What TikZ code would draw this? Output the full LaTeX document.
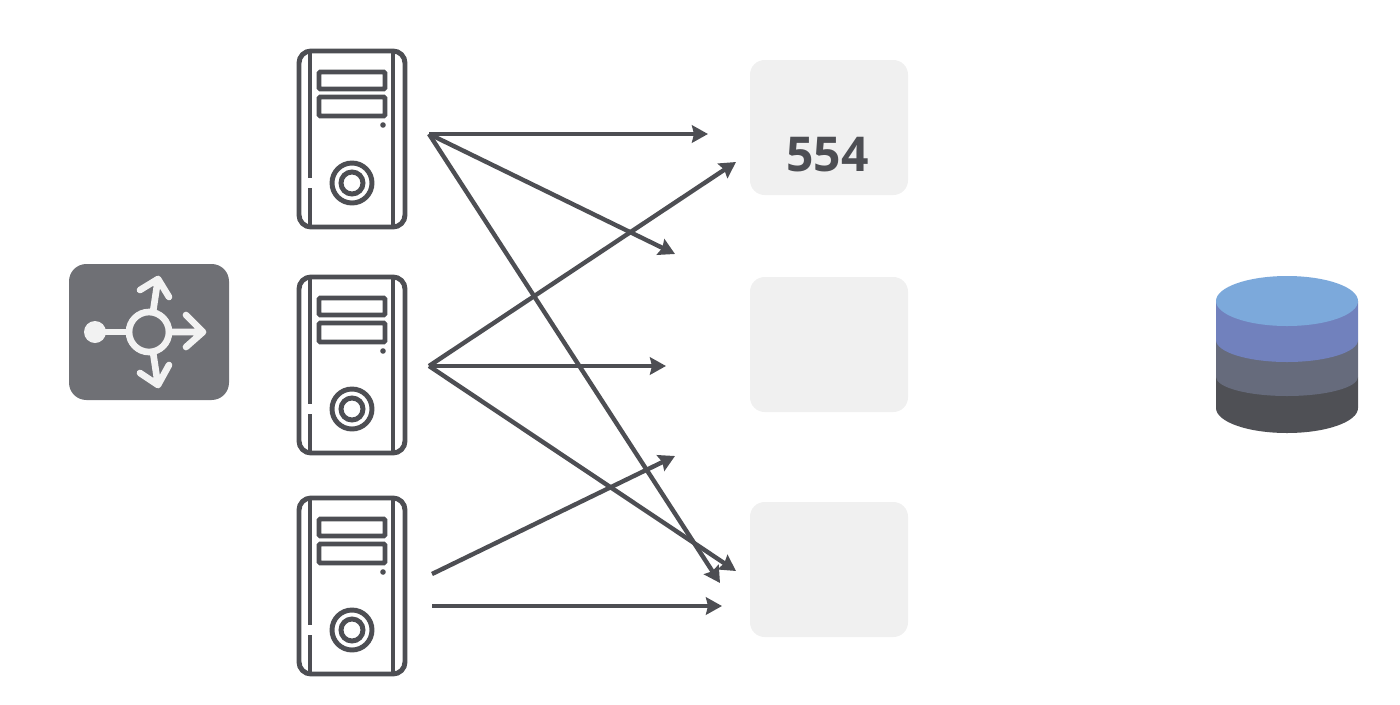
\documentclass[tikz,border=0pt]{standalone}
\usepackage{fontspec}
\setmainfont{Open Sans}
\usetikzlibrary{arrows.meta}
\definecolor{ink}{HTML}{4D4E53}
\definecolor{slotgray}{HTML}{F0F0F0}
\definecolor{routergray}{HTML}{6F7075}
\definecolor{routerwhite}{HTML}{F2F2F2}
\definecolor{cylA}{HTML}{7CA9DB}
\definecolor{cylB}{HTML}{7181BD}
\definecolor{cylC}{HTML}{666B7C}
\definecolor{cylD}{HTML}{4F5055}
\tikzset{
  x=0.75pt,y=-0.75pt,
  slot/.style={fill=slotgray,draw=none,rounded corners=11pt,minimum width=118.5pt,minimum height=101.25pt,inner sep=0pt,text=ink},
  link/.style={draw=ink,line width=3.3pt,-{Stealth[length=12pt,width=13pt,inset=1.5pt]}},
  srv/.style={draw=ink,line width=3.7pt},
  rarrow/.style={draw=routerwhite,line width=5pt,line cap=round,line join=round},
  pics/serverbox/.style={code={
    \draw[srv,rounded corners=9pt] (-53,-88) rectangle (53,88);
    \draw[srv] (-42,-88) -- (-42,39) (-42,49) -- (-42,88);
    \draw[draw=ink,line width=2.6pt] (41,-88) -- (41,88);
    \draw[srv,rounded corners=1pt] (-33,-67) rectangle (33,-50);
    \draw[srv,rounded corners=1pt] (-33,-42) rectangle (33,-23);
    \fill[ink] (31,-14) circle (2.8);
    \draw[srv] (0,44) circle (20);
    \draw[srv] (0,44) circle (11);
  }}
}
\begin{document}
\begin{tikzpicture}
\useasboundingbox (0,0) rectangle (1400,704);
% router
\node[fill=routergray,rounded corners=13pt,minimum width=120pt,minimum height=102pt,inner sep=0pt] (router) at (149,332) {};
\fill[routerwhite] (95,332) circle (11);
\draw[rarrow] (95,332) -- (129,332);
\draw[rarrow] (149,332) circle (20);
\draw[rarrow] (169,332) -- (203,332) (186,315) -- (203,332) -- (186,347);
\draw[rarrow] (153,312) -- (158,279) (140,290) -- (158,279) -- (169,297);
\draw[rarrow] (153,352) -- (158,385) (140,373) -- (158,385) -- (169,365);
% servers
\pic at (352,139) {serverbox};
\pic at (352,365) {serverbox};
\pic at (352,586) {serverbox};
% slots
\node[slot] (slotA) at (829,127.5) {};
\node[slot] (slotB) at (829,344.5) {};
\node[slot] (slotC) at (829,569.5) {};
\node[text=ink,font=\bfseries\fontsize{36}{36}\selectfont] (num) at (827.5,155) {554};
% free ends
\coordinate (a) at (429,134);
\coordinate (b) at (429,366);
\coordinate (c) at (432,574);
\coordinate (d) at (432,606);
\coordinate (a1) at (708,134);
\coordinate (a2) at (675,254);
\coordinate (a3) at (720,583);
\coordinate (b1) at (736,162);
\coordinate (b2) at (666,366);
\coordinate (b3) at (736,571);
\coordinate (c1) at (675,456);
\coordinate (d1) at (722,606);
\draw[link] (a) -- (a1);
\draw[link] (a) -- (a2);
\draw[link] (a) -- (a3);
\draw[link] (b) -- (b1);
\draw[link] (b) -- (b2);
\draw[link] (b) -- (b3);
\draw[link] (c) -- (c1);
\draw[link] (d) -- (d1);
% cylinder
\fill[cylD] (1216,377) -- (1216,408) arc[start angle=180,end angle=0,x radius=71,y radius=25] -- (1358,377) -- cycle;
\fill[cylC] (1216,340) -- (1216,377) arc[start angle=180,end angle=0,x radius=71,y radius=19] -- (1358,340) -- cycle;
\fill[cylB] (1216,301) -- (1216,340) arc[start angle=180,end angle=0,x radius=71,y radius=22] -- (1358,301) -- cycle;
\fill[cylA] (1287,301) ellipse [x radius=71,y radius=25];
\end{tikzpicture}
\end{document}
